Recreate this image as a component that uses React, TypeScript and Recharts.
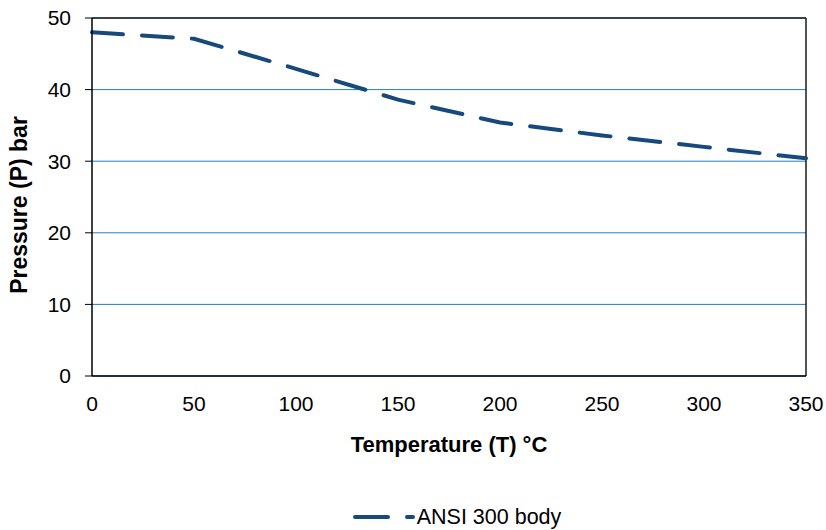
import React from "react";
import {
  LineChart,
  Line,
  XAxis,
  YAxis,
  CartesianGrid,
  Legend,
  ReferenceLine,
} from "recharts";

const temperatures = [0, 50, 100, 150, 200, 250, 300, 350];
const pressures = [48, 47.1, 42.9, 38.6, 35.4, 33.6, 32, 30.4];
const xTicks = [0, 50, 100, 150, 200, 250, 300, 350];
const yTicks = [0, 10, 20, 30, 40, 50];
const seriesName = "ANSI 300 body";

const data = temperatures.map((t, i) => ({ t, p: pressures[i] }));

const font = "'Liberation Sans', Arial, sans-serif";
const lineColor = "#17497C";

// y axis title placed by hand so it sits where Excel put it
const YTitle = () => (
  <text
    x={19}
    y={205}
    transform="rotate(-90 19 205)"
    textAnchor="middle"
    dominantBaseline="central"
    fontSize={23}
    fontWeight="bold"
    fill="#000"
    fontFamily={font}
  >
    Pressure (P) bar
  </text>
);

export default function App() {
  return (
    <div style={{ position: "absolute", left: 0, top: 0, background: "#fff", fontFamily: font }}>
      <LineChart
        width={826}
        height={530}
        data={data}
        margin={{ top: 18, right: 20, left: 0, bottom: 0 }}
      >
        <CartesianGrid vertical={false} stroke="#1B7FCC" strokeWidth={1} />
        <XAxis
          dataKey="t"
          type="number"
          domain={[0, 350]}
          ticks={xTicks}
          tickLine={false}
          axisLine={{ stroke: "#000", strokeWidth: 1.5 }}
          tick={{ fontSize: 21, fill: "#000", fontFamily: font }}
          tickMargin={14}
          height={118}
          label={{
            value: "Temperature (T) \u00b0C",
            position: "insideTop",
            offset: 60,
            fontSize: 22,
            fontWeight: "bold",
            fill: "#000",
            fontFamily: font,
          }}
        />
        <YAxis
          type="number"
          domain={[0, 50]}
          ticks={yTicks}
          tickSize={7}
          tickLine={{ stroke: "#000" }}
          axisLine={{ stroke: "#000", strokeWidth: 1.5 }}
          tick={{ fontSize: 21, fill: "#000", fontFamily: font }}
          tickMargin={14}
          width={92}
          label={{ content: () => <YTitle /> }}
        />
        <ReferenceLine y={50} stroke="#1a1a1a" strokeWidth={1.5} />
        <ReferenceLine x={350} stroke="#1a1a1a" strokeWidth={1.5} />
        <Legend
          verticalAlign="bottom"
          align="center"
          height={36}
          wrapperStyle={{ fontFamily: font, fontSize: 21, color: "#000" }}
          content={() => (
            <div
              style={{
                display: "flex",
                justifyContent: "center",
                alignItems: "center",
                paddingLeft: 108,
                paddingTop: 11,
              }}
            >
              <svg width={64} height={10}>
                <line
                  x1={2}
                  y1={5}
                  x2={60}
                  y2={5}
                  stroke={lineColor}
                  strokeWidth={4}
                  strokeLinecap="round"
                  strokeDasharray="33 19"
                />
              </svg>
              <span style={{ color: "#000", fontSize: 21.5, lineHeight: "24px" }}>{seriesName}</span>
            </div>
          )}
        />
        <Line
          type="linear"
          dataKey="p"
          name={seriesName}
          stroke={lineColor}
          strokeWidth={4}
          strokeLinecap="round"
          strokeDasharray="31 19"
          dot={false}
          isAnimationActive={false}
        />
      </LineChart>
    </div>
  );
}
